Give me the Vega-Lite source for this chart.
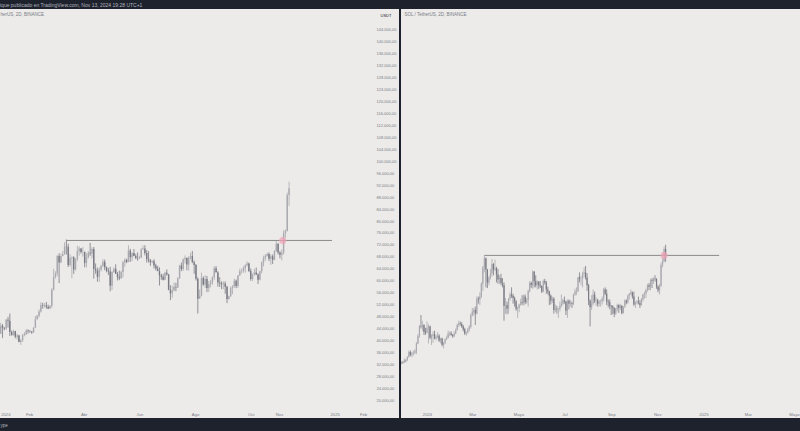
{
"$schema":"https://vega.github.io/schema/vega-lite/v6.json",
"background":"#1e222d",
"padding":{"left":0,"right":0,"top":2,"bottom":8},
"title":{"text":"ique publicado en TradingView.com, Nov 13, 2024 19:28 UTC+1","anchor":"start","frame":"group","fontSize":5,"fontWeight":"normal","color":"#b2b5be","baseline":"middle","offset":-0.5},
"bounds":"flush",
"spacing":2,
"datasets":{
"btc":[
{"t":"2024-01-01","o":42280,"h":45900,"l":42200,"c":44950},
{"t":"2024-01-03","o":44950,"h":45500,"l":40800,"c":44150},
{"t":"2024-01-05","o":44150,"h":44500,"l":43400,"c":43970},
{"t":"2024-01-07","o":43970,"h":47200,"l":43600,"c":46970},
{"t":"2024-01-09","o":46970,"h":47900,"l":44300,"c":46630},
{"t":"2024-01-11","o":46630,"h":49000,"l":41500,"c":42800},
{"t":"2024-01-13","o":42800,"h":43300,"l":41700,"c":41750},
{"t":"2024-01-15","o":41750,"h":43600,"l":41700,"c":43150},
{"t":"2024-01-17","o":43150,"h":43200,"l":40700,"c":41250},
{"t":"2024-01-19","o":41250,"h":42200,"l":40300,"c":41650},
{"t":"2024-01-21","o":41650,"h":41900,"l":39400,"c":39500},
{"t":"2024-01-23","o":39500,"h":40500,"l":38500,"c":40100},
{"t":"2024-01-25","o":40100,"h":42200,"l":39500,"c":41800},
{"t":"2024-01-27","o":41800,"h":42800,"l":41400,"c":42100},
{"t":"2024-01-29","o":42100,"h":43800,"l":41800,"c":43300},
{"t":"2024-01-31","o":43300,"h":43700,"l":42300,"c":43100},
{"t":"2024-02-02","o":43100,"h":43500,"l":42600,"c":43000},
{"t":"2024-02-04","o":43000,"h":43100,"l":42200,"c":42700},
{"t":"2024-02-06","o":42700,"h":44400,"l":42600,"c":44300},
{"t":"2024-02-08","o":44300,"h":48200,"l":44200,"c":47100},
{"t":"2024-02-10","o":47100,"h":48500,"l":47000,"c":48300},
{"t":"2024-02-12","o":48300,"h":50400,"l":47700,"c":49700},
{"t":"2024-02-14","o":49700,"h":52800,"l":49300,"c":51800},
{"t":"2024-02-16","o":51800,"h":52600,"l":50600,"c":51600},
{"t":"2024-02-18","o":51600,"h":52500,"l":51000,"c":51800},
{"t":"2024-02-20","o":51800,"h":52900,"l":50600,"c":51300},
{"t":"2024-02-22","o":51300,"h":52000,"l":50500,"c":50700},
{"t":"2024-02-24","o":50700,"h":51800,"l":50500,"c":51600},
{"t":"2024-02-26","o":51600,"h":57600,"l":50900,"c":57000},
{"t":"2024-02-28","o":57000,"h":64000,"l":56700,"c":61200},
{"t":"2024-03-01","o":61200,"h":63200,"l":60800,"c":62400},
{"t":"2024-03-03","o":62400,"h":68600,"l":61500,"c":68300},
{"t":"2024-03-05","o":68300,"h":69200,"l":59200,"c":66100},
{"t":"2024-03-07","o":66100,"h":69100,"l":65900,"c":68300},
{"t":"2024-03-09","o":68300,"h":70000,"l":68200,"c":68900},
{"t":"2024-03-11","o":68900,"h":72900,"l":68700,"c":71500},
{"t":"2024-03-13","o":71500,"h":73800,"l":68800,"c":71400},
{"t":"2024-03-15","o":71400,"h":72400,"l":64600,"c":65300},
{"t":"2024-03-17","o":65300,"h":68900,"l":64800,"c":67600},
{"t":"2024-03-19","o":67600,"h":68100,"l":60800,"c":67900},
{"t":"2024-03-21","o":67900,"h":68200,"l":62300,"c":63800},
{"t":"2024-03-23","o":63800,"h":67600,"l":63400,"c":67200},
{"t":"2024-03-25","o":67200,"h":71700,"l":66600,"c":69900},
{"t":"2024-03-27","o":69900,"h":71500,"l":68400,"c":70800},
{"t":"2024-03-29","o":70800,"h":70900,"l":69100,"c":69600},
{"t":"2024-03-31","o":69600,"h":71300,"l":68100,"c":69700},
{"t":"2024-04-02","o":69700,"h":69700,"l":64500,"c":65900},
{"t":"2024-04-04","o":65900,"h":69200,"l":64500,"c":67800},
{"t":"2024-04-06","o":67800,"h":69900,"l":67500,"c":69400},
{"t":"2024-04-08","o":69400,"h":72700,"l":68300,"c":69100},
{"t":"2024-04-10","o":69100,"h":71200,"l":67500,"c":70600},
{"t":"2024-04-12","o":70600,"h":71300,"l":60700,"c":63900},
{"t":"2024-04-14","o":63900,"h":65800,"l":62300,"c":63400},
{"t":"2024-04-16","o":63400,"h":64400,"l":59700,"c":61300},
{"t":"2024-04-18","o":61300,"h":64500,"l":59600,"c":63800},
{"t":"2024-04-20","o":63800,"h":65400,"l":63100,"c":64900},
{"t":"2024-04-22","o":64900,"h":67200,"l":64500,"c":66400},
{"t":"2024-04-24","o":66400,"h":67100,"l":63500,"c":64500},
{"t":"2024-04-26","o":64500,"h":64800,"l":62800,"c":63400},
{"t":"2024-04-28","o":63400,"h":64300,"l":61900,"c":63100},
{"t":"2024-04-30","o":63100,"h":64700,"l":56500,"c":58300},
{"t":"2024-05-02","o":58300,"h":63300,"l":56900,"c":62900},
{"t":"2024-05-04","o":62900,"h":64500,"l":62600,"c":64000},
{"t":"2024-05-06","o":64000,"h":65500,"l":62300,"c":62300},
{"t":"2024-05-08","o":62300,"h":63000,"l":60100,"c":61200},
{"t":"2024-05-10","o":61200,"h":63400,"l":60200,"c":60800},
{"t":"2024-05-12","o":60800,"h":63400,"l":60600,"c":62900},
{"t":"2024-05-14","o":62900,"h":66600,"l":61100,"c":66200},
{"t":"2024-05-16","o":66200,"h":67500,"l":64700,"c":67000},
{"t":"2024-05-18","o":67000,"h":67400,"l":65900,"c":66300},
{"t":"2024-05-20","o":66300,"h":71900,"l":66200,"c":70100},
{"t":"2024-05-22","o":70100,"h":70700,"l":66300,"c":67900},
{"t":"2024-05-24","o":67900,"h":69500,"l":66600,"c":69300},
{"t":"2024-05-26","o":69300,"h":70600,"l":68200,"c":68300},
{"t":"2024-05-28","o":68300,"h":69000,"l":67200,"c":67600},
{"t":"2024-05-30","o":67600,"h":69500,"l":66700,"c":67500},
{"t":"2024-06-01","o":67500,"h":68400,"l":67300,"c":67800},
{"t":"2024-06-03","o":67800,"h":71000,"l":67600,"c":70500},
{"t":"2024-06-05","o":70500,"h":71800,"l":70400,"c":70800},
{"t":"2024-06-07","o":70800,"h":71900,"l":68500,"c":69300},
{"t":"2024-06-09","o":69300,"h":70300,"l":66100,"c":67300},
{"t":"2024-06-11","o":67300,"h":69900,"l":66100,"c":66800},
{"t":"2024-06-13","o":66800,"h":67300,"l":65000,"c":66200},
{"t":"2024-06-15","o":66200,"h":66900,"l":65900,"c":66500},
{"t":"2024-06-17","o":66500,"h":67200,"l":64100,"c":65100},
{"t":"2024-06-19","o":65100,"h":65700,"l":63400,"c":64100},
{"t":"2024-06-21","o":64100,"h":65000,"l":63400,"c":63200},
{"t":"2024-06-23","o":63200,"h":64500,"l":58400,"c":61800},
{"t":"2024-06-25","o":61800,"h":62300,"l":60300,"c":61300},
{"t":"2024-06-27","o":61300,"h":62300,"l":60100,"c":60300},
{"t":"2024-06-29","o":60300,"h":63000,"l":60200,"c":62700},
{"t":"2024-07-01","o":62700,"h":63800,"l":61700,"c":62100},
{"t":"2024-07-03","o":62100,"h":62300,"l":56800,"c":57000},
{"t":"2024-07-05","o":57000,"h":58500,"l":53500,"c":55800},
{"t":"2024-07-07","o":55800,"h":58300,"l":54300,"c":56700},
{"t":"2024-07-09","o":56700,"h":59400,"l":56500,"c":57900},
{"t":"2024-07-11","o":57900,"h":59300,"l":56500,"c":57700},
{"t":"2024-07-13","o":57700,"h":61200,"l":57600,"c":60800},
{"t":"2024-07-15","o":60800,"h":65300,"l":60600,"c":65100},
{"t":"2024-07-17","o":65100,"h":66100,"l":63200,"c":63900},
{"t":"2024-07-19","o":63900,"h":67500,"l":63300,"c":67200},
{"t":"2024-07-21","o":67200,"h":68500,"l":65800,"c":67600},
{"t":"2024-07-23","o":67600,"h":67800,"l":63500,"c":65400},
{"t":"2024-07-25","o":65400,"h":68200,"l":63400,"c":67900},
{"t":"2024-07-27","o":67900,"h":69400,"l":67100,"c":68300},
{"t":"2024-07-29","o":68300,"h":70000,"l":65900,"c":66200},
{"t":"2024-07-31","o":66200,"h":66800,"l":62300,"c":65300},
{"t":"2024-08-02","o":65300,"h":65600,"l":60100,"c":60700},
{"t":"2024-08-04","o":60700,"h":61100,"l":49000,"c":54000},
{"t":"2024-08-06","o":54000,"h":57100,"l":53900,"c":55000},
{"t":"2024-08-08","o":55000,"h":62700,"l":54700,"c":60900},
{"t":"2024-08-10","o":60900,"h":61500,"l":58300,"c":58700},
{"t":"2024-08-12","o":58700,"h":61800,"l":57600,"c":60600},
{"t":"2024-08-14","o":60600,"h":61600,"l":56200,"c":57600},
{"t":"2024-08-16","o":57600,"h":59900,"l":56200,"c":58900},
{"t":"2024-08-18","o":58900,"h":60300,"l":57800,"c":59500},
{"t":"2024-08-20","o":59500,"h":61400,"l":58600,"c":61200},
{"t":"2024-08-22","o":61200,"h":64900,"l":60300,"c":64200},
{"t":"2024-08-24","o":64200,"h":64900,"l":62900,"c":62800},
{"t":"2024-08-26","o":62800,"h":63200,"l":58000,"c":59400},
{"t":"2024-08-28","o":59400,"h":61200,"l":57900,"c":59100},
{"t":"2024-08-30","o":59100,"h":59800,"l":57200,"c":58800},
{"t":"2024-09-01","o":58800,"h":59800,"l":57200,"c":59100},
{"t":"2024-09-03","o":59100,"h":59800,"l":55600,"c":58000},
{"t":"2024-09-05","o":58000,"h":58300,"l":52500,"c":53900},
{"t":"2024-09-07","o":53900,"h":55000,"l":53700,"c":54800},
{"t":"2024-09-09","o":54800,"h":58100,"l":54600,"c":57600},
{"t":"2024-09-11","o":57600,"h":58500,"l":55500,"c":58100},
{"t":"2024-09-13","o":58100,"h":60700,"l":57600,"c":60000},
{"t":"2024-09-15","o":60000,"h":60400,"l":57500,"c":58200},
{"t":"2024-09-17","o":58200,"h":61800,"l":57600,"c":61800},
{"t":"2024-09-19","o":61800,"h":64100,"l":61600,"c":63200},
{"t":"2024-09-21","o":63200,"h":64000,"l":62400,"c":63300},
{"t":"2024-09-23","o":63300,"h":64800,"l":62700,"c":64300},
{"t":"2024-09-25","o":64300,"h":65500,"l":62700,"c":65200},
{"t":"2024-09-27","o":65200,"h":66500,"l":64800,"c":65800},
{"t":"2024-09-29","o":65800,"h":66100,"l":62900,"c":63300},
{"t":"2024-10-01","o":63300,"h":64100,"l":60000,"c":60600},
{"t":"2024-10-03","o":60600,"h":62500,"l":59900,"c":62100},
{"t":"2024-10-05","o":62100,"h":64000,"l":61700,"c":62800},
{"t":"2024-10-07","o":62800,"h":64400,"l":61900,"c":62100},
{"t":"2024-10-09","o":62100,"h":62500,"l":58900,"c":60300},
{"t":"2024-10-11","o":60300,"h":63400,"l":60100,"c":63200},
{"t":"2024-10-13","o":63200,"h":66500,"l":62400,"c":66100},
{"t":"2024-10-15","o":66100,"h":68400,"l":64800,"c":67600},
{"t":"2024-10-17","o":67600,"h":68900,"l":66700,"c":68400},
{"t":"2024-10-19","o":68400,"h":69400,"l":68100,"c":69000},
{"t":"2024-10-21","o":69000,"h":69500,"l":66600,"c":67400},
{"t":"2024-10-23","o":67400,"h":68800,"l":65300,"c":68200},
{"t":"2024-10-25","o":68200,"h":68800,"l":65600,"c":67000},
{"t":"2024-10-27","o":67000,"h":70200,"l":66900,"c":69900},
{"t":"2024-10-29","o":69900,"h":73600,"l":69700,"c":72300},
{"t":"2024-10-31","o":72300,"h":72700,"l":68800,"c":69500},
{"t":"2024-11-02","o":69500,"h":69900,"l":67500,"c":68700},
{"t":"2024-11-04","o":68700,"h":70500,"l":66800,"c":69400},
{"t":"2024-11-06","o":69400,"h":76900,"l":68800,"c":75900},
{"t":"2024-11-08","o":75900,"h":77200,"l":74400,"c":76700},
{"t":"2024-11-10","o":76700,"h":89500,"l":76500,"c":88700},
{"t":"2024-11-12","o":88700,"h":93200,"l":85100,"c":91000}
],
"sol":[
{"t":"2023-11-28","o":57.5,"h":61,"l":56.5,"c":59.5},
{"t":"2023-11-30","o":59.5,"h":61,"l":57.5,"c":59.3},
{"t":"2023-12-02","o":59.3,"h":65,"l":59,"c":62.5},
{"t":"2023-12-04","o":62.5,"h":63.5,"l":59.5,"c":62.4},
{"t":"2023-12-06","o":62.4,"h":68,"l":61.5,"c":67},
{"t":"2023-12-08","o":67,"h":76,"l":66,"c":74},
{"t":"2023-12-10","o":74,"h":76,"l":68,"c":70},
{"t":"2023-12-12","o":70,"h":74,"l":66.5,"c":72},
{"t":"2023-12-14","o":72,"h":76,"l":69,"c":73},
{"t":"2023-12-16","o":73,"h":78,"l":71,"c":75},
{"t":"2023-12-18","o":75,"h":88,"l":71,"c":86},
{"t":"2023-12-20","o":86,"h":99,"l":85,"c":96},
{"t":"2023-12-22","o":96,"h":112,"l":94,"c":110},
{"t":"2023-12-24","o":110,"h":126,"l":107,"c":109},
{"t":"2023-12-26","o":109,"h":118,"l":104,"c":112},
{"t":"2023-12-28","o":112,"h":113,"l":98,"c":102},
{"t":"2023-12-30","o":102,"h":108,"l":98,"c":101},
{"t":"2024-01-01","o":101,"h":117,"l":100,"c":108},
{"t":"2024-01-03","o":108,"h":113,"l":86,"c":110},
{"t":"2024-01-05","o":110,"h":111,"l":92,"c":94},
{"t":"2024-01-07","o":94,"h":99,"l":84,"c":97},
{"t":"2024-01-09","o":97,"h":103,"l":87,"c":99},
{"t":"2024-01-11","o":99,"h":104,"l":92,"c":93},
{"t":"2024-01-13","o":93,"h":98,"l":90,"c":95},
{"t":"2024-01-15","o":95,"h":102,"l":93,"c":97},
{"t":"2024-01-17","o":97,"h":99,"l":88,"c":90},
{"t":"2024-01-19","o":90,"h":94,"l":86,"c":93},
{"t":"2024-01-21","o":93,"h":94,"l":82,"c":84},
{"t":"2024-01-23","o":84,"h":88,"l":79,"c":87},
{"t":"2024-01-25","o":87,"h":93,"l":85,"c":92},
{"t":"2024-01-27","o":92,"h":97,"l":91,"c":94},
{"t":"2024-01-29","o":94,"h":104,"l":93,"c":100},
{"t":"2024-01-31","o":100,"h":103,"l":96,"c":100.5},
{"t":"2024-02-02","o":100.5,"h":103,"l":97,"c":98},
{"t":"2024-02-04","o":98,"h":99,"l":94,"c":96},
{"t":"2024-02-06","o":96,"h":103,"l":95,"c":100},
{"t":"2024-02-08","o":100,"h":107,"l":99,"c":105},
{"t":"2024-02-10","o":105,"h":114,"l":104,"c":112},
{"t":"2024-02-12","o":112,"h":118,"l":109,"c":114},
{"t":"2024-02-14","o":114,"h":117,"l":111,"c":113.5},
{"t":"2024-02-16","o":113.5,"h":116,"l":108,"c":110},
{"t":"2024-02-18","o":110,"h":112,"l":103,"c":106},
{"t":"2024-02-20","o":106,"h":108,"l":98,"c":100},
{"t":"2024-02-22","o":100,"h":103,"l":97,"c":101},
{"t":"2024-02-24","o":101,"h":108,"l":100,"c":106},
{"t":"2024-02-26","o":106,"h":112,"l":103,"c":109},
{"t":"2024-02-28","o":109,"h":128,"l":107,"c":126},
{"t":"2024-03-01","o":126,"h":136,"l":124,"c":131},
{"t":"2024-03-03","o":131,"h":136,"l":125,"c":133},
{"t":"2024-03-05","o":133,"h":138,"l":112,"c":128},
{"t":"2024-03-07","o":128,"h":152,"l":127,"c":149},
{"t":"2024-03-09","o":149,"h":152,"l":142,"c":148},
{"t":"2024-03-11","o":148,"h":158,"l":140,"c":152},
{"t":"2024-03-13","o":152,"h":172,"l":150,"c":170},
{"t":"2024-03-15","o":170,"h":195,"l":160,"c":193},
{"t":"2024-03-17","o":193,"h":210,"l":186,"c":206},
{"t":"2024-03-19","o":206,"h":207,"l":165,"c":190},
{"t":"2024-03-21","o":190,"h":191,"l":164,"c":172},
{"t":"2024-03-23","o":172,"h":181,"l":168,"c":179},
{"t":"2024-03-25","o":179,"h":191,"l":176,"c":185},
{"t":"2024-03-27","o":185,"h":205,"l":180,"c":198},
{"t":"2024-03-29","o":198,"h":199,"l":182,"c":190},
{"t":"2024-03-31","o":190,"h":204,"l":188,"c":192},
{"t":"2024-04-02","o":192,"h":194,"l":172,"c":183},
{"t":"2024-04-04","o":183,"h":191,"l":170,"c":176},
{"t":"2024-04-06","o":176,"h":182,"l":170,"c":178},
{"t":"2024-04-08","o":178,"h":184,"l":168,"c":171},
{"t":"2024-04-10","o":171,"h":178,"l":165,"c":168},
{"t":"2024-04-12","o":168,"h":172,"l":118,"c":139},
{"t":"2024-04-14","o":139,"h":150,"l":128,"c":140},
{"t":"2024-04-16","o":140,"h":145,"l":127,"c":135},
{"t":"2024-04-18","o":135,"h":150,"l":128,"c":149},
{"t":"2024-04-20","o":149,"h":158,"l":146,"c":155},
{"t":"2024-04-22","o":155,"h":165,"l":150,"c":153},
{"t":"2024-04-24","o":153,"h":156,"l":142,"c":150},
{"t":"2024-04-26","o":150,"h":152,"l":138,"c":145},
{"t":"2024-04-28","o":145,"h":147,"l":132,"c":135},
{"t":"2024-04-30","o":135,"h":138,"l":122,"c":136},
{"t":"2024-05-02","o":136,"h":142,"l":130,"c":141},
{"t":"2024-05-04","o":141,"h":149,"l":139,"c":144},
{"t":"2024-05-06","o":144,"h":154,"l":140,"c":143},
{"t":"2024-05-08","o":143,"h":155,"l":139,"c":152},
{"t":"2024-05-10","o":152,"h":155,"l":141,"c":144},
{"t":"2024-05-12","o":144,"h":150,"l":142,"c":147},
{"t":"2024-05-14","o":147,"h":162,"l":138,"c":160},
{"t":"2024-05-16","o":160,"h":174,"l":158,"c":171},
{"t":"2024-05-18","o":171,"h":173,"l":164,"c":168},
{"t":"2024-05-20","o":168,"h":189,"l":163,"c":187},
{"t":"2024-05-22","o":187,"h":188,"l":165,"c":174},
{"t":"2024-05-24","o":174,"h":182,"l":165,"c":168},
{"t":"2024-05-26","o":168,"h":175,"l":162,"c":173},
{"t":"2024-05-28","o":173,"h":174,"l":163,"c":168},
{"t":"2024-05-30","o":168,"h":174,"l":164,"c":167},
{"t":"2024-06-01","o":167,"h":168,"l":157,"c":159},
{"t":"2024-06-03","o":159,"h":176,"l":158,"c":174},
{"t":"2024-06-05","o":174,"h":177,"l":169,"c":172},
{"t":"2024-06-07","o":172,"h":174,"l":156,"c":162},
{"t":"2024-06-09","o":162,"h":166,"l":155,"c":159},
{"t":"2024-06-11","o":159,"h":160,"l":140,"c":153},
{"t":"2024-06-13","o":153,"h":155,"l":141,"c":146},
{"t":"2024-06-15","o":146,"h":152,"l":143,"c":149},
{"t":"2024-06-17","o":149,"h":151,"l":128,"c":133},
{"t":"2024-06-19","o":133,"h":141,"l":130,"c":135},
{"t":"2024-06-21","o":135,"h":139,"l":128,"c":134},
{"t":"2024-06-23","o":134,"h":136,"l":122,"c":134.5},
{"t":"2024-06-25","o":134.5,"h":145,"l":131,"c":139},
{"t":"2024-06-27","o":139,"h":155,"l":137,"c":142},
{"t":"2024-06-29","o":142,"h":149,"l":140,"c":147},
{"t":"2024-07-01","o":147,"h":152,"l":142,"c":145},
{"t":"2024-07-03","o":145,"h":146,"l":126,"c":132},
{"t":"2024-07-05","o":132,"h":148,"l":122,"c":146},
{"t":"2024-07-07","o":146,"h":148,"l":134,"c":142},
{"t":"2024-07-09","o":142,"h":147,"l":138,"c":143},
{"t":"2024-07-11","o":143,"h":145,"l":136,"c":142},
{"t":"2024-07-13","o":142,"h":156,"l":140,"c":155},
{"t":"2024-07-15","o":155,"h":163,"l":153,"c":159},
{"t":"2024-07-17","o":159,"h":165,"l":154,"c":160},
{"t":"2024-07-19","o":160,"h":180,"l":158,"c":179},
{"t":"2024-07-21","o":179,"h":186,"l":172,"c":177},
{"t":"2024-07-23","o":177,"h":181,"l":168,"c":177.5},
{"t":"2024-07-25","o":177.5,"h":187,"l":165,"c":184},
{"t":"2024-07-27","o":184,"h":193,"l":179,"c":186},
{"t":"2024-07-29","o":186,"h":195,"l":176,"c":179},
{"t":"2024-07-31","o":179,"h":185,"l":160,"c":168},
{"t":"2024-08-02","o":168,"h":170,"l":140,"c":146},
{"t":"2024-08-04","o":146,"h":148,"l":110,"c":137},
{"t":"2024-08-06","o":137,"h":154,"l":133,"c":142},
{"t":"2024-08-08","o":142,"h":162,"l":140,"c":155},
{"t":"2024-08-10","o":155,"h":159,"l":143,"c":146},
{"t":"2024-08-12","o":146,"h":151,"l":139,"c":147},
{"t":"2024-08-14","o":147,"h":149,"l":138,"c":142},
{"t":"2024-08-16","o":142,"h":147,"l":138,"c":145},
{"t":"2024-08-18","o":145,"h":148,"l":138,"c":145.5},
{"t":"2024-08-20","o":145.5,"h":152,"l":141,"c":149},
{"t":"2024-08-22","o":149,"h":164,"l":145,"c":162},
{"t":"2024-08-24","o":162,"h":165,"l":154,"c":156},
{"t":"2024-08-26","o":156,"h":162,"l":140,"c":145},
{"t":"2024-08-28","o":145,"h":148,"l":137,"c":144},
{"t":"2024-08-30","o":144,"h":148,"l":134,"c":139},
{"t":"2024-09-01","o":139,"h":140,"l":126,"c":138},
{"t":"2024-09-03","o":138,"h":140,"l":127,"c":136},
{"t":"2024-09-05","o":136,"h":137,"l":123,"c":128},
{"t":"2024-09-07","o":128,"h":136,"l":126,"c":135},
{"t":"2024-09-09","o":135,"h":142,"l":131,"c":140},
{"t":"2024-09-11","o":140,"h":141,"l":129,"c":136},
{"t":"2024-09-13","o":136,"h":142,"l":133,"c":139},
{"t":"2024-09-15","o":139,"h":140,"l":127,"c":129},
{"t":"2024-09-17","o":129,"h":138,"l":128,"c":138},
{"t":"2024-09-19","o":138,"h":148,"l":136,"c":146},
{"t":"2024-09-21","o":146,"h":148,"l":141,"c":144},
{"t":"2024-09-23","o":144,"h":155,"l":142,"c":153},
{"t":"2024-09-25","o":153,"h":157,"l":148,"c":156},
{"t":"2024-09-27","o":156,"h":162,"l":154,"c":158},
{"t":"2024-09-29","o":158,"h":159,"l":149,"c":152},
{"t":"2024-10-01","o":152,"h":159,"l":139,"c":141},
{"t":"2024-10-03","o":141,"h":145,"l":136,"c":144},
{"t":"2024-10-05","o":144,"h":147,"l":141,"c":145},
{"t":"2024-10-07","o":145,"h":152,"l":141,"c":143},
{"t":"2024-10-09","o":143,"h":147,"l":136,"c":140},
{"t":"2024-10-11","o":140,"h":150,"l":139,"c":148},
{"t":"2024-10-13","o":148,"h":156,"l":145,"c":155},
{"t":"2024-10-15","o":155,"h":159,"l":149,"c":156},
{"t":"2024-10-17","o":156,"h":163,"l":150,"c":161},
{"t":"2024-10-19","o":161,"h":170,"l":159,"c":168},
{"t":"2024-10-21","o":168,"h":171,"l":161,"c":166},
{"t":"2024-10-23","o":166,"h":177,"l":161,"c":175},
{"t":"2024-10-25","o":175,"h":178,"l":164,"c":174},
{"t":"2024-10-27","o":174,"h":179,"l":170,"c":177},
{"t":"2024-10-29","o":177,"h":182,"l":173,"c":176.5},
{"t":"2024-10-31","o":176.5,"h":178,"l":163,"c":166},
{"t":"2024-11-02","o":166,"h":168,"l":158,"c":161},
{"t":"2024-11-04","o":161,"h":170,"l":155,"c":167},
{"t":"2024-11-06","o":167,"h":200,"l":166,"c":197},
{"t":"2024-11-08","o":197,"h":206,"l":193,"c":202},
{"t":"2024-11-10","o":202,"h":222,"l":200,"c":219},
{"t":"2024-11-12","o":219,"h":225,"l":201,"c":210}
],
"btcLevel":[{"t1":"2024-03-13","t2":"2024-12-29","p":73500}],
"btcMark":[{"t":"2024-11-05","p":73500}],
"solLevel":[{"t1":"2024-03-17","t2":"2025-01-22","p":210}],
"solMark":[{"t":"2024-11-10","p":210}]
},
"hconcat":[
{
"width":399,"height":409,
"view":{"fill":"#ecebe9","stroke":null},
"resolve":{"axis":{"x":"independent","y":"independent"}},
"layer":[
{"data":{"name":"btc"},"mark":{"type":"rule","strokeWidth":0.8,"clip":true},
"encoding":{
"x":{"field":"t","type":"temporal","scale":{"type":"utc","domain":[{"year":2023,"month":12,"date":31,"hours":5,"minutes":36,"utc":true},{"year":2025,"month":3,"date":12,"hours":11,"utc":true}]},
"axis":{"orient":"bottom","values":[{"year":2024,"month":1,"date":1,"utc":true},{"year":2024,"month":2,"date":1,"utc":true},{"year":2024,"month":4,"date":1,"utc":true},{"year":2024,"month":6,"date":1,"utc":true},{"year":2024,"month":8,"date":1,"utc":true},{"year":2024,"month":10,"date":1,"utc":true},{"year":2024,"month":11,"date":1,"utc":true},{"year":2025,"month":1,"date":1,"utc":true},{"year":2025,"month":2,"date":1,"utc":true}],
"labelExpr":"utcmonth(datum.value) == 0 ? utcFormat(datum.value, '%Y') : ['Ene','Feb','Mar','Abr','Mayo','Jun','Jul','Ago','Sep','Oct','Nov','Dic'][utcmonth(datum.value)]",
"offset":-4,"ticks":false,"domain":false,"grid":false,"labelPadding":0,"labelBaseline":"middle","labelFontSize":4.2,"labelColor":"#787b86","labelOverlap":false,"labelBound":false,"labelFlush":true,
"title":"ype","titleAnchor":"start","titleAlign":"left","titleX":0,"titleY":11,"titleBaseline":"middle","titleFontSize":4.5,"titleColor":"#b2b5be","titleFontWeight":"normal"}},
"y":{"field":"l","type":"quantitative","scale":{"domain":[14017,151035],"nice":false,"zero":false},
"axis":{"orient":"right","offset":-23,"values":[20000,24000,28000,32000,36000,40000,44000,48000,52000,56000,60000,64000,68000,72000,76000,80000,84000,88000,92000,96000,100000,104000,108000,112000,116000,120000,124000,128000,132000,136000,140000,144000],"format":",.2f","labelAlign":"left","labelPadding":0,"labelBaseline":"middle","ticks":false,"domain":false,"grid":false,"labelFontSize":4,"labelColor":"#787b86","labelOverlap":false,"labelBound":false,
"title":"USDT","titleAngle":0,"titleX":9.5,"titleY":6,"titleAlign":"center","titleBaseline":"middle","titleFontSize":4,"titleColor":"#131722","titleFontWeight":"normal"}},
"y2":{"field":"h"},
"color":{"condition":{"test":"datum.c >= datum.o","value":"#a9a9b0"},"value":"#7a7a84"}
}},
{"data":{"name":"btc"},"mark":{"type":"rule","strokeWidth":1.4,"clip":true},
"encoding":{
"x":{"field":"t","type":"temporal","axis":{"orient":"top","values":[],"labels":false,"ticks":false,"domain":false,"grid":false,"title":"herUS, 2D, BINANCE","titleAnchor":"start","titleAlign":"left","titleX":0,"titleY":5,"titleBaseline":"middle","titleFontSize":4.5,"titleColor":"#787b86","titleFontWeight":"normal"}},
"y":{"field":"o","type":"quantitative","axis":null},
"y2":{"field":"c"},
"color":{"condition":{"test":"datum.c >= datum.o","value":"#a9a9b0"},"value":"#7a7a84"}
}},
{"data":{"name":"btcLevel"},"mark":{"type":"rule","color":"#8a8a8a","strokeWidth":1,"clip":true},
"encoding":{"x":{"field":"t1","type":"temporal","axis":null},"x2":{"field":"t2"},"y":{"field":"p","type":"quantitative","axis":null}}},
{"data":{"name":"btcMark"},"mark":{"type":"point","filled":true,"size":50,"color":"#f2a1b6","opacity":0.7,"clip":true},
"encoding":{"x":{"field":"t","type":"temporal","axis":null},"y":{"field":"p","type":"quantitative","axis":null}}}
]
},
{
"width":399,"height":409,
"view":{"fill":"#ecebe9","stroke":null},
"resolve":{"axis":{"x":"independent","y":"independent"}},
"layer":[
{"data":{"name":"sol"},"mark":{"type":"rule","strokeWidth":0.8,"clip":true},
"encoding":{
"x":{"field":"t","type":"temporal","scale":{"type":"utc","domain":[{"year":2023,"month":11,"date":27,"hours":13,"minutes":40,"utc":true},{"year":2025,"month":5,"date":9,"utc":true}]},
"axis":{"orient":"bottom","values":[{"year":2024,"month":1,"date":1,"utc":true},{"year":2024,"month":3,"date":1,"utc":true},{"year":2024,"month":5,"date":1,"utc":true},{"year":2024,"month":7,"date":1,"utc":true},{"year":2024,"month":9,"date":1,"utc":true},{"year":2024,"month":11,"date":1,"utc":true},{"year":2025,"month":1,"date":1,"utc":true},{"year":2025,"month":3,"date":1,"utc":true},{"year":2025,"month":5,"date":1,"utc":true}],
"labelExpr":"utcmonth(datum.value) == 0 ? utcFormat(datum.value, '%Y') : ['Ene','Feb','Mar','Abr','Mayo','Jun','Jul','Ago','Sep','Oct','Nov','Dic'][utcmonth(datum.value)]",
"offset":-4,"ticks":false,"domain":false,"grid":false,"labelPadding":0,"labelBaseline":"middle","labelFontSize":4.2,"labelColor":"#787b86","labelOverlap":false,"labelBound":false,"title":null}},
"y":{"field":"l","type":"quantitative","scale":{"domain":[-19,557],"nice":false,"zero":false},"axis":null},
"y2":{"field":"h"},
"color":{"condition":{"test":"datum.c >= datum.o","value":"#a9a9b0"},"value":"#7a7a84"}
}},
{"data":{"name":"sol"},"mark":{"type":"rule","strokeWidth":1.2,"clip":true},
"encoding":{
"x":{"field":"t","type":"temporal","axis":{"orient":"top","values":[],"labels":false,"ticks":false,"domain":false,"grid":false,"title":"SOL / TetherUS, 2D, BINANCE","titleAnchor":"start","titleAlign":"left","titleX":3,"titleY":5,"titleBaseline":"middle","titleFontSize":4.5,"titleColor":"#787b86","titleFontWeight":"normal"}},
"y":{"field":"o","type":"quantitative","axis":null},
"y2":{"field":"c"},
"color":{"condition":{"test":"datum.c >= datum.o","value":"#a9a9b0"},"value":"#7a7a84"}
}},
{"data":{"name":"solLevel"},"mark":{"type":"rule","color":"#8a8a8a","strokeWidth":1,"clip":true},
"encoding":{"x":{"field":"t1","type":"temporal","axis":null},"x2":{"field":"t2"},"y":{"field":"p","type":"quantitative","axis":null}}},
{"data":{"name":"solMark"},"mark":{"type":"point","filled":true,"size":50,"color":"#f2a1b6","opacity":0.7,"clip":true},
"encoding":{"x":{"field":"t","type":"temporal","axis":null},"y":{"field":"p","type":"quantitative","axis":null}}}
]
}
],
"config":{
"font":"Liberation Sans",
"view":{"stroke":null},
"locale":{"number":{"decimal":",","thousands":".","grouping":[3],"currency":["","€"]}}
}
}
